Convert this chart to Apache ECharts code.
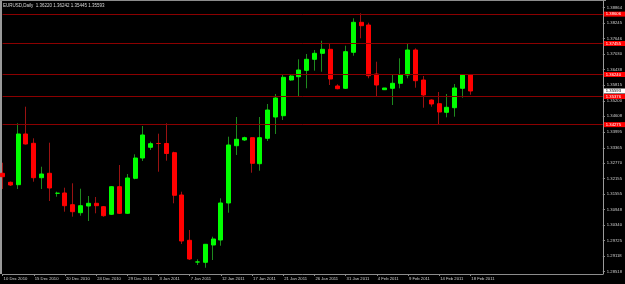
<!DOCTYPE html>
<html><head><meta charset="utf-8">
<script src="https://cdn.jsdelivr.net/npm/echarts@6/dist/echarts.min.js"></script>
<style>html,body{margin:0;padding:0;background:#000}#c{width:625px;height:284px}</style>
</head><body><div id="c"></div>
<script>
const symbolName = 'EURUSD,Daily';
const dates = ['10 Dec 2010','12 Dec 2010','13 Dec 2010','14 Dec 2010','15 Dec 2010','16 Dec 2010','17 Dec 2010','19 Dec 2010',
'20 Dec 2010','21 Dec 2010','22 Dec 2010','23 Dec 2010','24 Dec 2010','26 Dec 2010','27 Dec 2010','28 Dec 2010',
'29 Dec 2010','30 Dec 2010','31 Dec 2010','2 Jan 2011','3 Jan 2011','4 Jan 2011','5 Jan 2011','6 Jan 2011',
'7 Jan 2011','9 Jan 2011','10 Jan 2011','11 Jan 2011','12 Jan 2011','13 Jan 2011','14 Jan 2011','16 Jan 2011',
'17 Jan 2011','18 Jan 2011','19 Jan 2011','20 Jan 2011','21 Jan 2011','23 Jan 2011','24 Jan 2011','25 Jan 2011',
'26 Jan 2011','27 Jan 2011','28 Jan 2011','30 Jan 2011','31 Jan 2011','1 Feb 2011','2 Feb 2011','3 Feb 2011',
'4 Feb 2011','6 Feb 2011','7 Feb 2011','8 Feb 2011','9 Feb 2011','10 Feb 2011','11 Feb 2011','13 Feb 2011',
'14 Feb 2011','15 Feb 2011','16 Feb 2011','17 Feb 2011','18 Feb 2011'];
const openP = [1.32368,1.32015,1.31921,1.33908,1.33543,1.32195,1.32368,1.31584,1.31596,1.31137,1.30824,1.31086,1.31192,1.31059,1.30761,1.31843,
1.30800,1.32172,1.32967,1.33387,1.33537,1.33536,1.33175,1.31517,1.29742,1.28891,1.28880,1.29558,1.29754,1.31204,1.33449,1.33673,
1.33763,1.32744,1.33739,1.34574,1.34625,1.36024,1.36153,1.36404,1.36835,1.37070,1.37227,1.35789,1.35699,1.37110,1.38285,1.38179,
1.36259,1.35644,1.35699,1.35895,1.36220,1.37200,1.36024,1.35240,1.35095,1.34758,1.34938,1.35699,1.36220];
const highP = [1.32783,1.32046,1.34327,1.34978,1.33739,1.32626,1.33567,1.31647,1.31803,1.31976,1.31764,1.31478,1.31439,1.31086,1.31858,1.32693,
1.32340,1.33112,1.34221,1.33606,1.33920,1.34327,1.33214,1.31647,1.30146,1.28997,1.29585,1.29883,1.31388,1.33802,1.34574,1.33802,
1.33770,1.34574,1.35084,1.35475,1.36220,1.36220,1.36835,1.37043,1.37200,1.37564,1.37462,1.35856,1.37368,1.38442,1.38638,1.38270,
1.36741,1.35711,1.36259,1.36874,1.37462,1.37266,1.36181,1.35268,1.35554,1.35475,1.35867,1.36259,1.36242];
const lowP = [1.31753,1.31870,1.31753,1.33496,1.32039,1.31753,1.31282,1.31451,1.30863,1.30667,1.30706,1.30498,1.30800,1.30667,1.30734,1.30773,
1.30773,1.32133,1.32850,1.33281,1.32430,1.32862,1.31192,1.29597,1.28970,1.28774,1.28668,1.28970,1.29530,1.30824,1.33085,1.33634,
1.32391,1.32470,1.33634,1.33908,1.34457,1.35997,1.35370,1.35699,1.36389,1.36349,1.35828,1.35660,1.35671,1.36976,1.37658,1.36091,
1.35370,1.35632,1.35044,1.35699,1.36091,1.35722,1.34938,1.34978,1.34261,1.34562,1.34586,1.35330,1.35445];
const closeP = [1.32234,1.31909,1.33908,1.33516,1.32195,1.32340,1.31792,1.31586,1.31098,1.30863,1.31098,1.31192,1.31098,1.30706,1.31843,1.30800,
1.32184,1.32967,1.33869,1.33528,1.33535,1.33144,1.31506,1.29715,1.29009,1.28893,1.29585,1.29793,1.31204,1.33477,1.33700,1.33763,
1.32760,1.33763,1.34848,1.35319,1.36130,1.36181,1.36416,1.36835,1.37070,1.37227,1.36063,1.35683,1.37133,1.38285,1.38152,1.36193,
1.35828,1.35711,1.35895,1.36220,1.37200,1.35997,1.35436,1.35084,1.34770,1.34954,1.35711,1.36220,1.35593];
const priceTicks = [1.38864,1.38245,1.37646,1.37030,1.36438,1.35815,1.35200,1.34608,1.33995,1.33365,1.32770,1.32155,1.31555,1.30948,1.30340,1.29725,1.29118,1.28518];
const levelLines = [1.38606,1.37455,1.36240,1.35376,1.34275];
const emptyBarsRight = 17;
const yMin = 1.284214, yMax = 1.391200;

const last = dates.length - 1;
const categories = dates.concat(new Array(emptyBarsRight).fill(''));
const fmt = v => v.toFixed(5);
const FONT = 'Liberation Sans';
const FS = 4.2;
const showIdx = (i, v) => i % 4 === 0 && v !== '';

const wickData = dates.map((_, i) => [openP[i], closeP[i], lowP[i], highP[i]]);
const bodyData = dates.map((_, i) => [openP[i], closeP[i], Math.min(openP[i], closeP[i]), Math.max(openP[i], closeP[i])]);

const chart = echarts.init(document.getElementById('c'), null, {renderer: 'canvas'});
chart.setOption({
  backgroundColor: '#000000',
  animation: false,
  title: {
    text: symbolName + '  ' + [openP[last], highP[last], lowP[last], closeP[last]].map(fmt).join(' '),
    left: 3, top: 3, padding: 0,
    textStyle: {color: '#d8d8d8', fontSize: 4.5, fontWeight: 'normal', fontFamily: FONT}
  },
  grid: {left: 2.6, right: 19.6, top: 1, bottom: 10},
  xAxis: {
    type: 'category', data: categories, boundaryGap: false,
    axisLine: {show: true, lineStyle: {color: '#8c8c8c', width: 1}},
    axisTick: {show: true, length: 2, interval: showIdx, lineStyle: {color: '#8c8c8c'}},
    axisLabel: {interval: showIdx, color: '#cfcfcf', fontSize: FS, fontFamily: FONT, align: 'left', margin: 3, padding: [0, 0, 0, 1]},
    splitLine: {show: false}
  },
  yAxis: {
    type: 'value', position: 'right', min: yMin, max: yMax,
    axisLine: {show: true, lineStyle: {color: '#9a9a9a'}},
    axisTick: {show: true, length: 2, customValues: priceTicks, lineStyle: {color: '#9a9a9a'}},
    axisLabel: {customValues: priceTicks, formatter: v => fmt(v), color: '#cfcfcf', fontSize: FS, fontFamily: FONT, margin: 4, padding: [0, 0, 3, 0]},
    splitLine: {show: false}
  },
  graphic: [
    {type: 'line', shape: {x1: 1, y1: 0, x2: 1, y2: 274}, style: {stroke: '#9a9a9a', lineWidth: 2}, silent: true},
    {type: 'line', shape: {x1: 0, y1: 0.5, x2: 606, y2: 0.5}, style: {stroke: '#8c8c8c', lineWidth: 1}, silent: true}
  ],
  series: [
    {
      type: 'line', data: [], z: 1, silent: true,
      markLine: {
        silent: true, symbol: ['none', 'none'], animation: false, precision: 5,
        lineStyle: {color: '#8b0000', width: 1, type: 'solid'},
        data: levelLines.map(v => ({
          yAxis: v,
          label: {show: true, position: 'end', formatter: fmt(v), color: '#ffffff', backgroundColor: '#ff0000',
                  fontSize: FS, fontFamily: FONT, padding: [0.5, 4, 0.5, 2], distance: 1}
        })).concat([{
          yAxis: closeP[last],
          lineStyle: {color: 'rgba(0,0,0,0)', width: 1},
          label: {show: true, position: 'end', formatter: fmt(closeP[last]), color: '#000000', backgroundColor: '#ffffff',
                  fontSize: FS, fontFamily: FONT, padding: [0.5, 4, 0.5, 2], distance: 1}
        }])
      }
    },
    {
      type: 'candlestick', data: wickData, z: 2, clip: false, barWidth: 1,
      itemStyle: {color: '#1e8a1e', color0: '#9a1212', borderColor: '#1e8a1e', borderColor0: '#9a1212', borderWidth: 1}
    },
    {
      type: 'candlestick', data: bodyData, z: 3, clip: false, barWidth: 4.5,
      itemStyle: {color: '#00ff00', color0: '#ff0000', borderColor: '#00ff00', borderColor0: '#ff0000', borderWidth: 1}
    }
  ]
});
</script></body></html>
